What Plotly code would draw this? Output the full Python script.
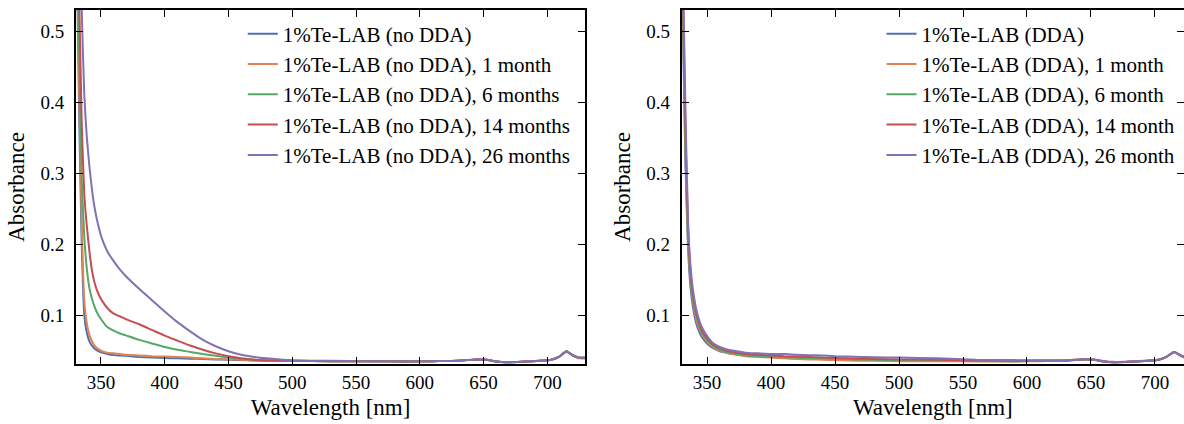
import plotly.graph_objects as go

# Wavelength grid (nm) shared by all spectra
wavelength = [331, 333, 335, 337, 339, 341, 343, 345, 348, 351, 355, 360, 365, 370,
              380, 390, 400, 410, 420, 430, 440, 450, 460, 470, 480, 500, 530, 560,
              590, 610, 630, 645, 652, 660, 668, 680, 695, 703, 709, 715, 720, 725, 731]

# 1%Te-LAB without DDA
nodda_0 = [0.62, 0.38, 0.20, 0.100, 0.075, 0.063, 0.057, 0.053, 0.049, 0.047, 0.045, 0.0435,
           0.043, 0.0425, 0.041, 0.040, 0.0395, 0.039, 0.0385, 0.038, 0.0375, 0.037, 0.0365,
           0.036, 0.036, 0.0355, 0.035, 0.035, 0.0345, 0.035, 0.0355, 0.0375, 0.037, 0.0345,
           0.0335, 0.034, 0.0355, 0.037, 0.041, 0.049, 0.043, 0.040, 0.040]
nodda_1 = [0.65, 0.42, 0.23, 0.120, 0.088, 0.072, 0.063, 0.057, 0.052, 0.049, 0.047, 0.046,
           0.045, 0.044, 0.043, 0.042, 0.0415, 0.041, 0.040, 0.039, 0.038, 0.0375, 0.037,
           0.036, 0.036, 0.0355, 0.035, 0.035, 0.0345, 0.035, 0.0355, 0.0375, 0.037, 0.0345,
           0.0335, 0.034, 0.0355, 0.037, 0.041, 0.048, 0.043, 0.039, 0.039]
nodda_6 = [0.70, 0.48, 0.29, 0.210, 0.165, 0.138, 0.123, 0.112, 0.100, 0.092, 0.083, 0.078,
           0.074, 0.071, 0.065, 0.060, 0.055, 0.051, 0.048, 0.045, 0.0425, 0.040, 0.038,
           0.037, 0.036, 0.0355, 0.035, 0.035, 0.0345, 0.035, 0.0355, 0.0375, 0.037, 0.0345,
           0.0335, 0.034, 0.0355, 0.037, 0.041, 0.049, 0.043, 0.040, 0.040]
nodda_14 = [0.75, 0.55, 0.37, 0.270, 0.225, 0.190, 0.163, 0.146, 0.130, 0.120, 0.110, 0.102,
            0.098, 0.094, 0.087, 0.079, 0.071, 0.064, 0.057, 0.051, 0.046, 0.042, 0.039,
            0.037, 0.036, 0.0355, 0.035, 0.035, 0.0345, 0.035, 0.0355, 0.0375, 0.037, 0.0345,
            0.0335, 0.034, 0.0355, 0.037, 0.041, 0.049, 0.043, 0.040, 0.040]
nodda_26 = [0.90, 0.68, 0.53, 0.410, 0.350, 0.310, 0.277, 0.252, 0.226, 0.207, 0.190, 0.176,
            0.164, 0.154, 0.137, 0.121, 0.105, 0.090, 0.077, 0.065, 0.056, 0.049, 0.044,
            0.041, 0.039, 0.036, 0.0355, 0.035, 0.0345, 0.035, 0.0355, 0.0378, 0.0372, 0.0345,
            0.0335, 0.034, 0.0358, 0.037, 0.041, 0.049, 0.043, 0.040, 0.040]

# 1%Te-LAB with DDA
dda_0 = [0.52, 0.32, 0.20, 0.140, 0.110, 0.092, 0.080, 0.072, 0.064, 0.058, 0.053, 0.049,
         0.047, 0.045, 0.043, 0.042, 0.041, 0.040, 0.0395, 0.039, 0.0385, 0.038, 0.0375,
         0.037, 0.037, 0.0365, 0.036, 0.0355, 0.035, 0.0355, 0.0355, 0.0375, 0.037, 0.0345,
         0.0335, 0.034, 0.0355, 0.037, 0.041, 0.048, 0.043, 0.039, 0.039]
dda_1 = [0.54, 0.34, 0.21, 0.150, 0.118, 0.098, 0.085, 0.076, 0.067, 0.060, 0.054, 0.050,
         0.047, 0.045, 0.042, 0.041, 0.040, 0.039, 0.038, 0.0375, 0.037, 0.0365, 0.036,
         0.0355, 0.0355, 0.035, 0.035, 0.0345, 0.0345, 0.035, 0.0355, 0.0375, 0.037, 0.0345,
         0.0335, 0.034, 0.0355, 0.037, 0.041, 0.048, 0.043, 0.039, 0.039]
dda_6 = [0.55, 0.35, 0.22, 0.155, 0.122, 0.102, 0.088, 0.078, 0.069, 0.062, 0.056, 0.051,
         0.048, 0.046, 0.043, 0.042, 0.041, 0.0405, 0.040, 0.0395, 0.039, 0.0385, 0.038,
         0.0375, 0.037, 0.0365, 0.036, 0.0355, 0.035, 0.0355, 0.0355, 0.0375, 0.037, 0.0345,
         0.0335, 0.034, 0.0355, 0.037, 0.041, 0.048, 0.043, 0.039, 0.039]
dda_14 = [0.57, 0.37, 0.23, 0.162, 0.128, 0.107, 0.093, 0.082, 0.072, 0.065, 0.058, 0.053,
          0.050, 0.048, 0.045, 0.044, 0.043, 0.042, 0.0415, 0.041, 0.040, 0.0395, 0.039,
          0.0385, 0.038, 0.0375, 0.037, 0.036, 0.0355, 0.036, 0.036, 0.0378, 0.0372, 0.0345,
          0.0335, 0.034, 0.0355, 0.037, 0.041, 0.048, 0.043, 0.039, 0.039]
dda_26 = [0.60, 0.40, 0.24, 0.170, 0.135, 0.113, 0.098, 0.087, 0.076, 0.068, 0.060, 0.055,
          0.052, 0.050, 0.047, 0.046, 0.045, 0.045, 0.044, 0.0435, 0.043, 0.042, 0.0415,
          0.041, 0.0405, 0.040, 0.039, 0.037, 0.0365, 0.036, 0.036, 0.038, 0.0375, 0.035,
          0.034, 0.0345, 0.036, 0.0375, 0.041, 0.048, 0.043, 0.040, 0.039]

nodda_names = ["1%Te-LAB (no DDA)", "1%Te-LAB (no DDA), 1 month",
               "1%Te-LAB (no DDA), 6 months", "1%Te-LAB (no DDA), 14 months",
               "1%Te-LAB (no DDA), 26 months"]
dda_names = ["1%Te-LAB (DDA)", "1%Te-LAB (DDA), 1 month", "1%Te-LAB (DDA), 6 month",
             "1%Te-LAB (DDA), 14 month", "1%Te-LAB (DDA), 26 month"]

colors = ["#4C72B0", "#DD8452", "#55A868", "#C44E52", "#8172B3"]

x_ticks = [350, 400, 450, 500, 550, 600, 650, 700]
y_ticks = [0.1, 0.2, 0.3, 0.4, 0.5]

FONT = "Liberation Serif"

fig = go.Figure()

for i, (name, ys) in enumerate(zip(nodda_names, [nodda_0, nodda_1, nodda_6, nodda_14, nodda_26])):
    fig.add_trace(go.Scatter(x=wavelength, y=ys, name=name, mode="lines",
                             line=dict(color=colors[i], width=2, shape="spline", smoothing=0.5),
                             xaxis="x", yaxis="y", legend="legend", legendgroup="a%d" % i))

for i, (name, ys) in enumerate(zip(dda_names, [dda_0, dda_1, dda_6, dda_14, dda_26])):
    fig.add_trace(go.Scatter(x=wavelength, y=ys, name=name, mode="lines",
                             line=dict(color=colors[i], width=2, shape="spline", smoothing=0.5),
                             xaxis="x2", yaxis="y2", legend="legend2", legendgroup="b%d" % i))

# carrier for the right-hand tick marks of the second panel
fig.add_trace(go.Scatter(x=[None], y=[None], xaxis="x2", yaxis="y3", showlegend=False,
                         hoverinfo="skip"))

tickfont = dict(family=FONT, size=19, color="black")
titlefont = dict(family=FONT, size=23, color="black")

xcommon = dict(tickmode="array", tickvals=x_ticks, ticks="inside", ticklen=7, tickwidth=1.4,
               tickcolor="black", showline=True, linecolor="black", linewidth=1.8,
               showgrid=False, zeroline=False, tickfont=tickfont,
               title=dict(text="Wavelength [nm]", font=titlefont, standoff=7),
               ticklabelstandoff=0)
ycommon = dict(tickmode="array", tickvals=y_ticks, ticks="inside", ticklen=7, tickwidth=1.4,
               tickcolor="black", showline=True, linecolor="black", linewidth=1.8,
               showgrid=False, zeroline=False, tickfont=tickfont, range=[0.031, 0.530],
               title=dict(text="Absorbance", font=titlefont, standoff=9),
               ticklabelstandoff=6)

legcommon = dict(font=dict(family=FONT, size=21, color="black"), bgcolor="rgba(0,0,0,0)",
                 borderwidth=0, xanchor="left", yanchor="top", tracegroupgap=0,
                 itemclick=False)

fig.update_layout(
    width=1184, height=424,
    margin=dict(l=76, r=0, t=10, b=60),
    paper_bgcolor="white", plot_bgcolor="white",
    font=dict(family=FONT),
    xaxis=dict(domain=[0, 0.4594], range=[330.5, 729.5], mirror="ticks", anchor="y", **xcommon),
    yaxis=dict(domain=[0, 1], mirror="ticks", anchor="x", **ycommon),
    xaxis2=dict(domain=[0.5467, 1.0], range=[330.2, 722.7], mirror="ticks", anchor="y2", **xcommon),
    yaxis2=dict(domain=[0, 1], mirror=False, anchor="x2", **ycommon),
    yaxis3=dict(overlaying="y2", anchor="x2", side="right", matches="y2",
                tickmode="array", tickvals=y_ticks, ticks="inside", ticklen=7, tickwidth=1.4,
                tickcolor="black", showline=False, showgrid=False, zeroline=False,
                showticklabels=False),
    legend=dict(x=0.1505, y=0.99, **legcommon),
    legend2=dict(x=0.727, y=0.99, **legcommon),
    showlegend=True,
)

fig.write_html("out.html")
